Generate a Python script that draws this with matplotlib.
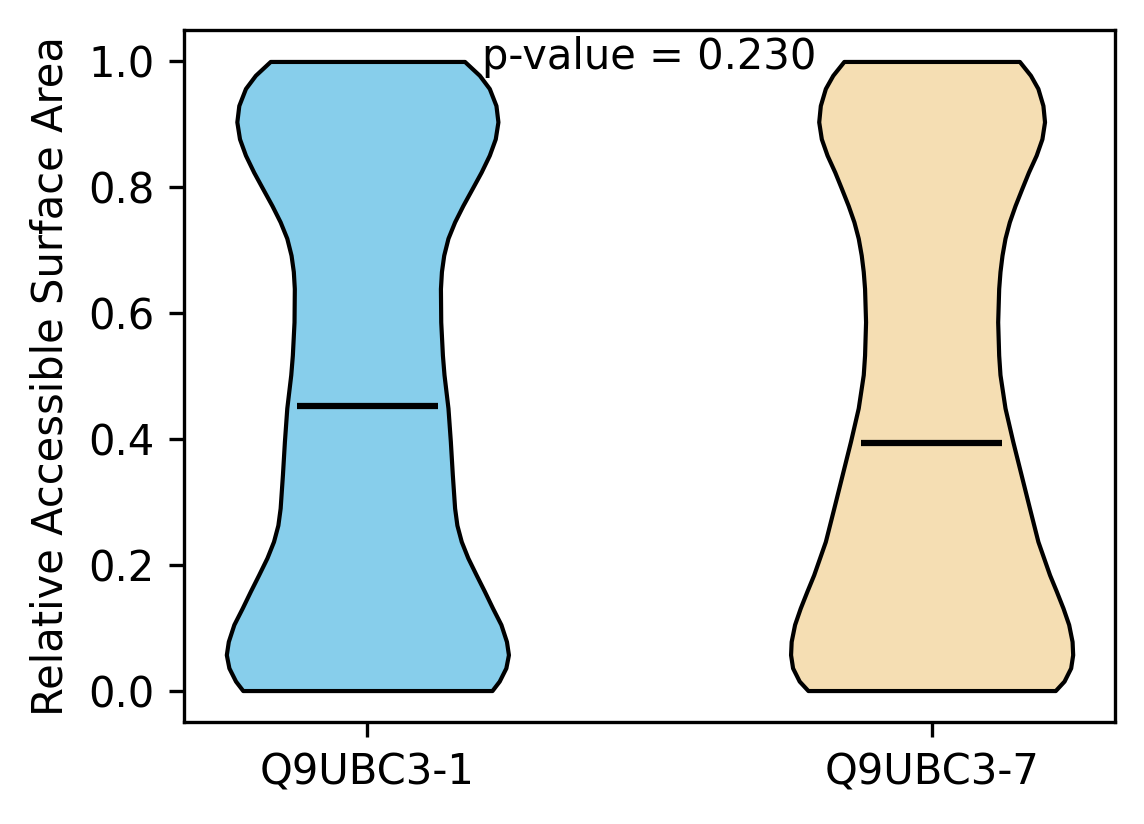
import numpy as np
import matplotlib
matplotlib.use("Agg")
import matplotlib.pyplot as plt

categories = ["Q9UBC3-1", "Q9UBC3-7"]
colors = ["#87CEEB", "#F5DEB3"]

# density profiles (relative half-width, arbitrary units)
y1 = [0.0, 0.015, 0.036, 0.057, 0.078, 0.105, 0.131, 0.158, 0.184, 0.211, 0.237,
      0.263, 0.290, 0.343, 0.396, 0.449, 0.502, 0.533, 0.586, 0.639, 0.666, 0.692,
      0.719, 0.745, 0.771, 0.798, 0.824, 0.851, 0.877, 0.904, 0.930, 0.957, 0.978, 1.0]
w1 = [125.7, 133.0, 139.7, 142.3, 140.3, 134.7, 126.3, 118.0, 109.7, 101.3, 94.7,
      90.3, 88.0, 85.7, 83.7, 81.3, 77.3, 75.7, 74.0, 73.7, 74.7, 77.0,
      81.3, 88.0, 96.3, 105.7, 114.7, 123.0, 129.0, 131.7, 129.7, 123.0, 113.0, 98.0]
y2 = [0.0, 0.015, 0.036, 0.057, 0.078, 0.105, 0.131, 0.158, 0.184, 0.237, 0.290,
      0.343, 0.396, 0.449, 0.502, 0.533, 0.586, 0.639, 0.666, 0.692, 0.719, 0.745,
      0.771, 0.798, 0.824, 0.851, 0.877, 0.904, 0.930, 0.957, 0.978, 1.0]
w2 = [123.0, 131.7, 138.3, 140.3, 139.7, 136.3, 130.7, 124.0, 117.3, 105.7, 97.3,
      89.0, 80.7, 73.0, 68.0, 66.7, 65.7, 66.7, 68.0, 70.0, 73.0, 77.3,
      83.0, 89.7, 96.3, 104.0, 109.7, 112.3, 110.7, 105.7, 98.3, 87.3]
means = [0.453, 0.394]
p_value = 0.230

vpstats = []
for y, w, m in zip([y1, y2], [w1, w2], means):
    vpstats.append(dict(coords=np.array(y), vals=np.array(w), mean=m,
                        median=m, min=min(y), max=max(y)))

fig = plt.figure(figsize=(1144 / 300, 824 / 300), dpi=300)
ax = fig.add_axes([184 / 1144, 1 - 722 / 824, (1115 - 184) / 1144, (722 - 30) / 824])
parts = ax.violin(vpstats, positions=[1, 2], widths=0.5, showmeans=True,
                  showextrema=False, showmedians=False)
for body, c in zip(parts['bodies'], colors):
    body.set_facecolor(c)
    body.set_edgecolor('black')
    body.set_linewidth(1.0)
    body.set_alpha(1)
parts['cmeans'].set_color('black')
parts['cmeans'].set_linewidth(1.5)

ax.set_xticks([1, 2])
ax.set_xticklabels(categories, fontsize=10)
ax.tick_params(labelsize=10)
ax.set_ylabel("Relative Accessible Surface Area", fontsize=10)
ax.text(1.5, 1.007, f"p-value = {p_value:.3f}", ha='center', va='center', fontsize=10)

fig.savefig("out.png", dpi=300)
